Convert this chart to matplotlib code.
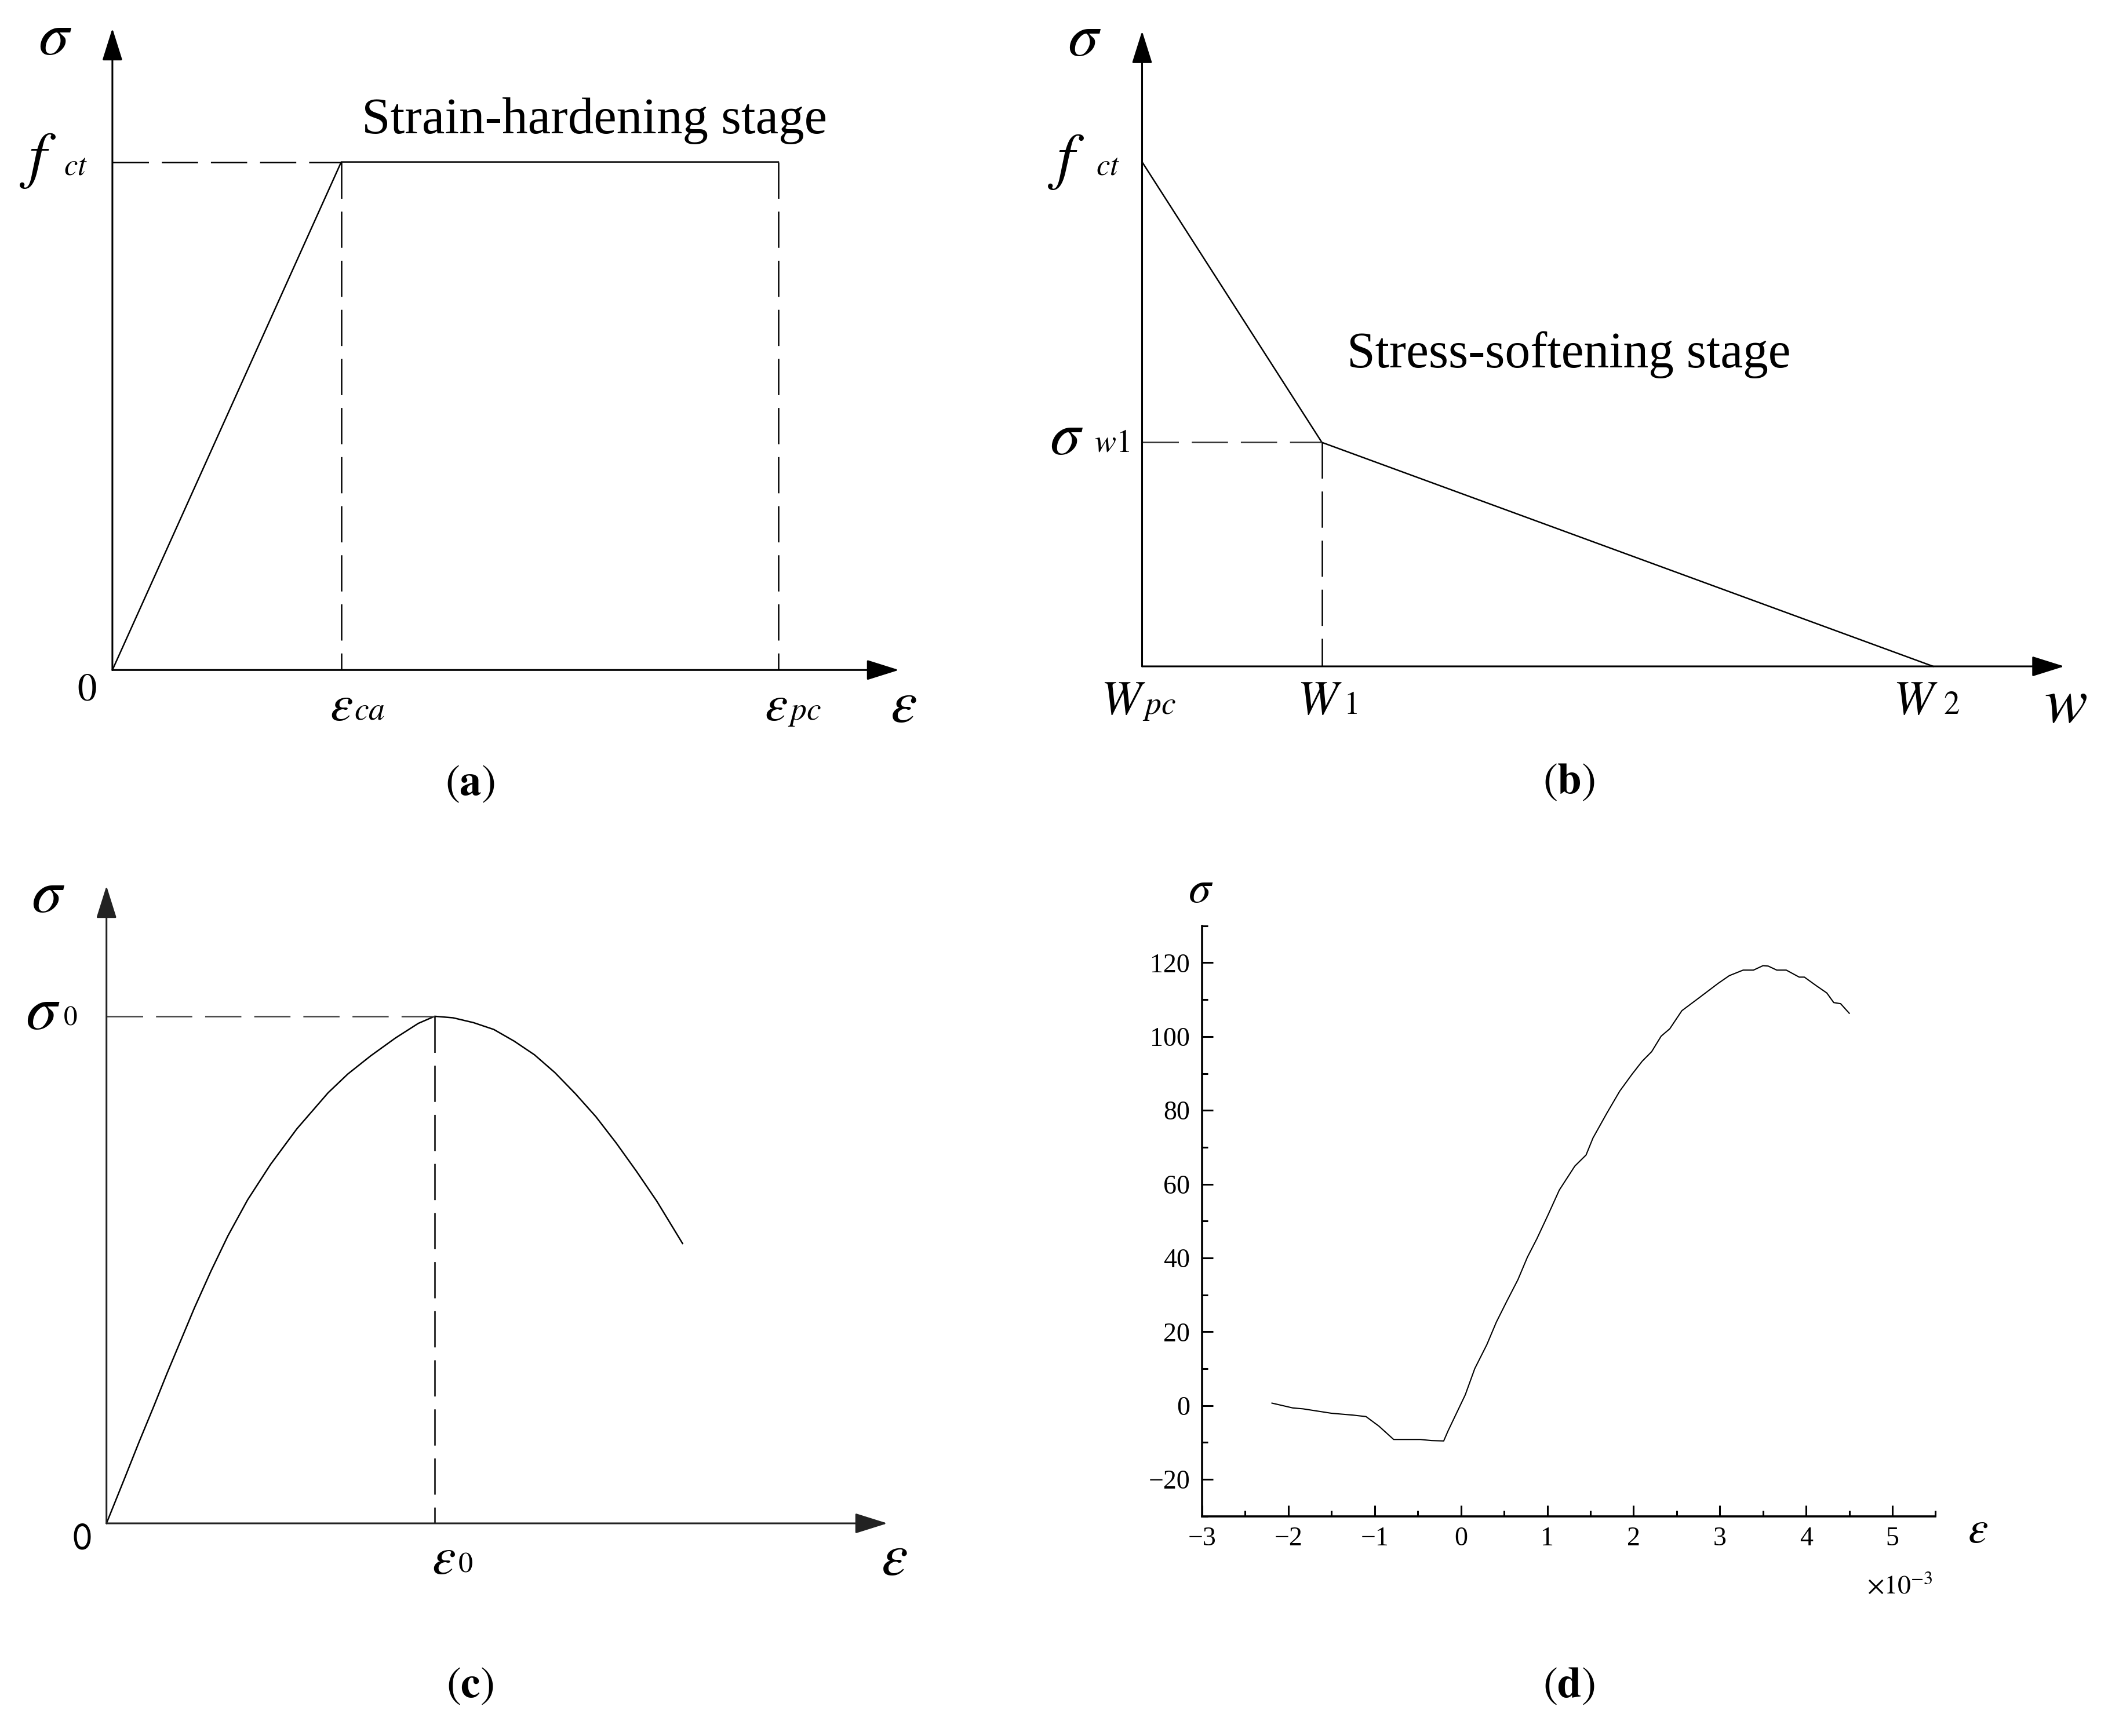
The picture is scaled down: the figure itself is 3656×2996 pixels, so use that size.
import matplotlib
matplotlib.use("Agg")
import matplotlib.pyplot as plt
from matplotlib.ticker import MultipleLocator

plt.rcParams['mathtext.fontset'] = 'stix'
plt.rcParams['font.family'] = 'Liberation Serif'
plt.rcParams['lines.scale_dashes'] = False

# (a) strain-hardening: 0, eps_ca, eps_pc  (stress normalised by f_ct)
a_strain = [0.0, 1.0, 2.91]
a_stress = [0.0, 1.0, 1.0]

# (b) stress-softening: W_pc, W_1, W_2  (stress normalised by f_ct)
b_w = [0.0, 1.0, 4.40]
b_stress = [1.0, 0.444, 0.0]

# (c) compression curve, normalised by eps_0 and sigma_0
c_strain = [0.0, 0.056, 0.099, 0.143, 0.184, 0.226, 0.268, 0.318, 0.370, 0.430, 0.500, 0.580,
            0.675, 0.735, 0.805, 0.880, 0.950, 1.0,
            1.056, 1.118, 1.180, 1.242, 1.304, 1.366, 1.429, 1.491, 1.553, 1.615, 1.677, 1.755]
c_stress = [0.0, 0.090, 0.160, 0.229, 0.295, 0.360, 0.425, 0.497, 0.567, 0.638, 0.708, 0.778,
            0.849, 0.886, 0.922, 0.957, 0.986, 1.0,
            0.997, 0.9875, 0.974, 0.951, 0.924, 0.889, 0.847, 0.802, 0.750, 0.694, 0.635, 0.552]

# (d) measured curve, strain in 1e-3
d_strain = [-2.19, -1.95, -1.83, -1.50, -1.25, -1.10, -0.95, -0.78, -0.47, -0.34, -0.20, -0.15,
            0.05, 0.16, 0.30, 0.41, 0.53, 0.66, 0.77, 0.88, 1.01, 1.14, 1.32, 1.45, 1.53, 1.69,
            1.84, 1.98, 2.10, 2.21, 2.32, 2.42, 2.56, 2.76, 2.98, 3.11, 3.27, 3.39, 3.50, 3.56,
            3.66, 3.77, 3.92, 3.98, 4.11, 4.24, 4.32, 4.40, 4.50]
d_stress = [0.65, -0.65, -0.9, -2.1, -2.6, -3.0, -5.6, -9.2, -9.2, -9.5, -9.6, -6.9,
            2.9, 10.0, 16.5, 22.6, 28.2, 34.1, 40.2, 45.2, 51.7, 58.4, 64.9, 67.9, 72.5, 79.2,
            85.2, 89.7, 93.3, 95.9, 100.1, 102.1, 107.0, 110.5, 114.4, 116.5, 118.0, 118.0, 119.2, 119.1,
            118.0, 118.0, 116.1, 116.1, 113.9, 111.8, 109.2, 108.9, 106.3]

W, H = 3656, 2996
fig = plt.figure(figsize=(W / 100, H / 100), dpi=100)

LW_AX = 2.2
LW = 1.8
DASH = (0, (45, 16))


def px_axes(left, top, right, bottom):
    return fig.add_axes([left / W, 1 - bottom / H, (right - left) / W, (bottom - top) / H])


def label(x, y, s, size, **kw):
    kw.setdefault('ha', 'center')
    kw.setdefault('va', 'center')
    fig.text(x / W, 1 - y / H, s, fontsize=size, **kw)


def schematic(ax, xmax, ymax, color='black'):
    ax.set_xlim(0, xmax)
    ax.set_ylim(0, ymax)
    ax.axis('off')
    props = dict(arrowstyle='-|>,head_length=0.35,head_width=0.11', mutation_scale=100,
                 lw=LW_AX, color=color, shrinkA=0, shrinkB=0)
    ax.annotate('', xy=(xmax, 0), xytext=(0, 0), arrowprops=props, annotation_clip=False)
    ax.annotate('', xy=(0, ymax), xytext=(0, 0), arrowprops=props, annotation_clip=False)


# ---------------- (a)
ax = px_axes(193.9, 49, 1551, 1156.3)
schematic(ax, 3.437, 1.263)
ax.plot(a_strain, a_stress, color='black', lw=LW, clip_on=False)
ax.plot([0, a_strain[1]], [a_stress[1], a_stress[1]], color='black', lw=LW, ls=DASH, clip_on=False)
for e in a_strain[1:]:
    ax.plot([e, e], [a_stress[1], 0], color='black', lw=LW, ls=DASH, clip_on=False)

label(95, 69, r'$\sigma$', 76)
label(66, 277, r'$f$', 78)
label(131, 288, r'$ct$', 38)
label(589, 1222, r'$\varepsilon$', 64)
label(638, 1228, r'$ca$', 40)
label(1339, 1222, r'$\varepsilon$', 64)
label(1388, 1230, r'$pc$', 40)
label(150, 1192, r'$\mathrm{0}$', 48)
label(1559, 1221, r'$\varepsilon$', 74)
label(1026, 230, 'Strain-hardening stage', 64, va='baseline')
label(811, 1353, r'$(\mathbf{a})$', 54)

# ---------------- (b)
ax = px_axes(1970.5, 53.6, 3561.5, 1150)
schematic(ax, 5.129, 1.2595)
ax.plot(b_w, b_stress, color='black', lw=LW, clip_on=False)
ax.plot([0, b_w[1]], [b_stress[1], b_stress[1]], color='#333333', lw=LW, ls=DASH, clip_on=False)
ax.plot([b_w[1], b_w[1]], [b_stress[1], 0], color='black', lw=LW, ls=DASH, clip_on=False)

label(1871, 71, r'$\sigma$', 76)
label(1840, 279, r'$f$', 78)
label(1912, 288, r'$ct$', 38)
label(1840, 759, r'$\sigma$', 76)
label(1918, 766, r'$\mathit{w1}$', 40)
label(1938, 1212, r'$W$', 60)
label(2000, 1220, r'$pc$', 40)
label(2277, 1212, r'$W$', 60)
label(2330, 1218, r'$\mathit{1}$', 40)
label(3305, 1212, r'$W$', 60)
label(3367, 1218, r'$\mathit{2}$', 40)
label(3564, 1219, r'$w$', 80)
label(2707, 634, 'Stress-softening stage', 63, va='baseline')
label(2707, 1350, r'$(\mathbf{b})$', 54)

# ---------------- (c)
ax = px_axes(183.7, 1529, 1531, 2629)
schematic(ax, 2.379, 1.257, color='#222222')
ax.plot(c_strain, c_stress, color='black', lw=LW, clip_on=False, solid_joinstyle='round')
ipk = c_stress.index(max(c_stress))
ax.plot([0, c_strain[ipk]], [c_stress[ipk], c_stress[ipk]], color='#444444', lw=LW, ls=DASH, clip_on=False)
ax.plot([c_strain[ipk], c_strain[ipk]], [c_stress[ipk], 0], color='black', lw=LW, ls=DASH, clip_on=False)

label(83, 1549, r'$\sigma$', 76)
label(74, 1750, r'$\sigma$', 78)
label(121, 1757, r'$\mathit{0}$', 34)
label(141, 2658, r'$\mathsf{0}$', 46)
label(765, 2694, r'$\varepsilon$', 66)
label(803, 2700, r'$\mathit{0}$', 36)
label(1543, 2693, r'$\varepsilon$', 74)
label(811, 2910, r'$(\mathbf{c})$', 54)

# ---------------- (d)
ax = px_axes(2074, 1597.8, 3339.5, 2616.7)
ax.plot(d_strain, d_stress, color='black', lw=1.5, solid_joinstyle='round')
ax.set_xlim(-3, 5.5)
ax.set_ylim(-30, 130)
ax.xaxis.set_major_locator(MultipleLocator(1))
ax.xaxis.set_minor_locator(MultipleLocator(0.5))
ax.yaxis.set_major_locator(MultipleLocator(20))
ax.yaxis.set_minor_locator(MultipleLocator(10))
for side in ['top', 'right']:
    ax.spines[side].set_visible(False)
for side in ['left', 'bottom']:
    ax.spines[side].set_linewidth(2.6)
ax.tick_params(which='major', direction='in', length=13.7, width=2.2, labelsize=33)
ax.tick_params(which='minor', direction='in', length=7.2, width=2.2)
ax.tick_params(axis='x', which='major', pad=13)
ax.tick_params(axis='y', which='major', pad=15)

label(2072, 1538, r'$\sigma$', 56)
label(3413, 2643, r'$\varepsilon$', 56)
label(3335, 2750, r'$\times10^{-3}$', 33, ha='right', va='baseline')
label(2707, 2910, r'$(\mathbf{d})$', 54)

fig.savefig('out.png', dpi=100, facecolor='white')
